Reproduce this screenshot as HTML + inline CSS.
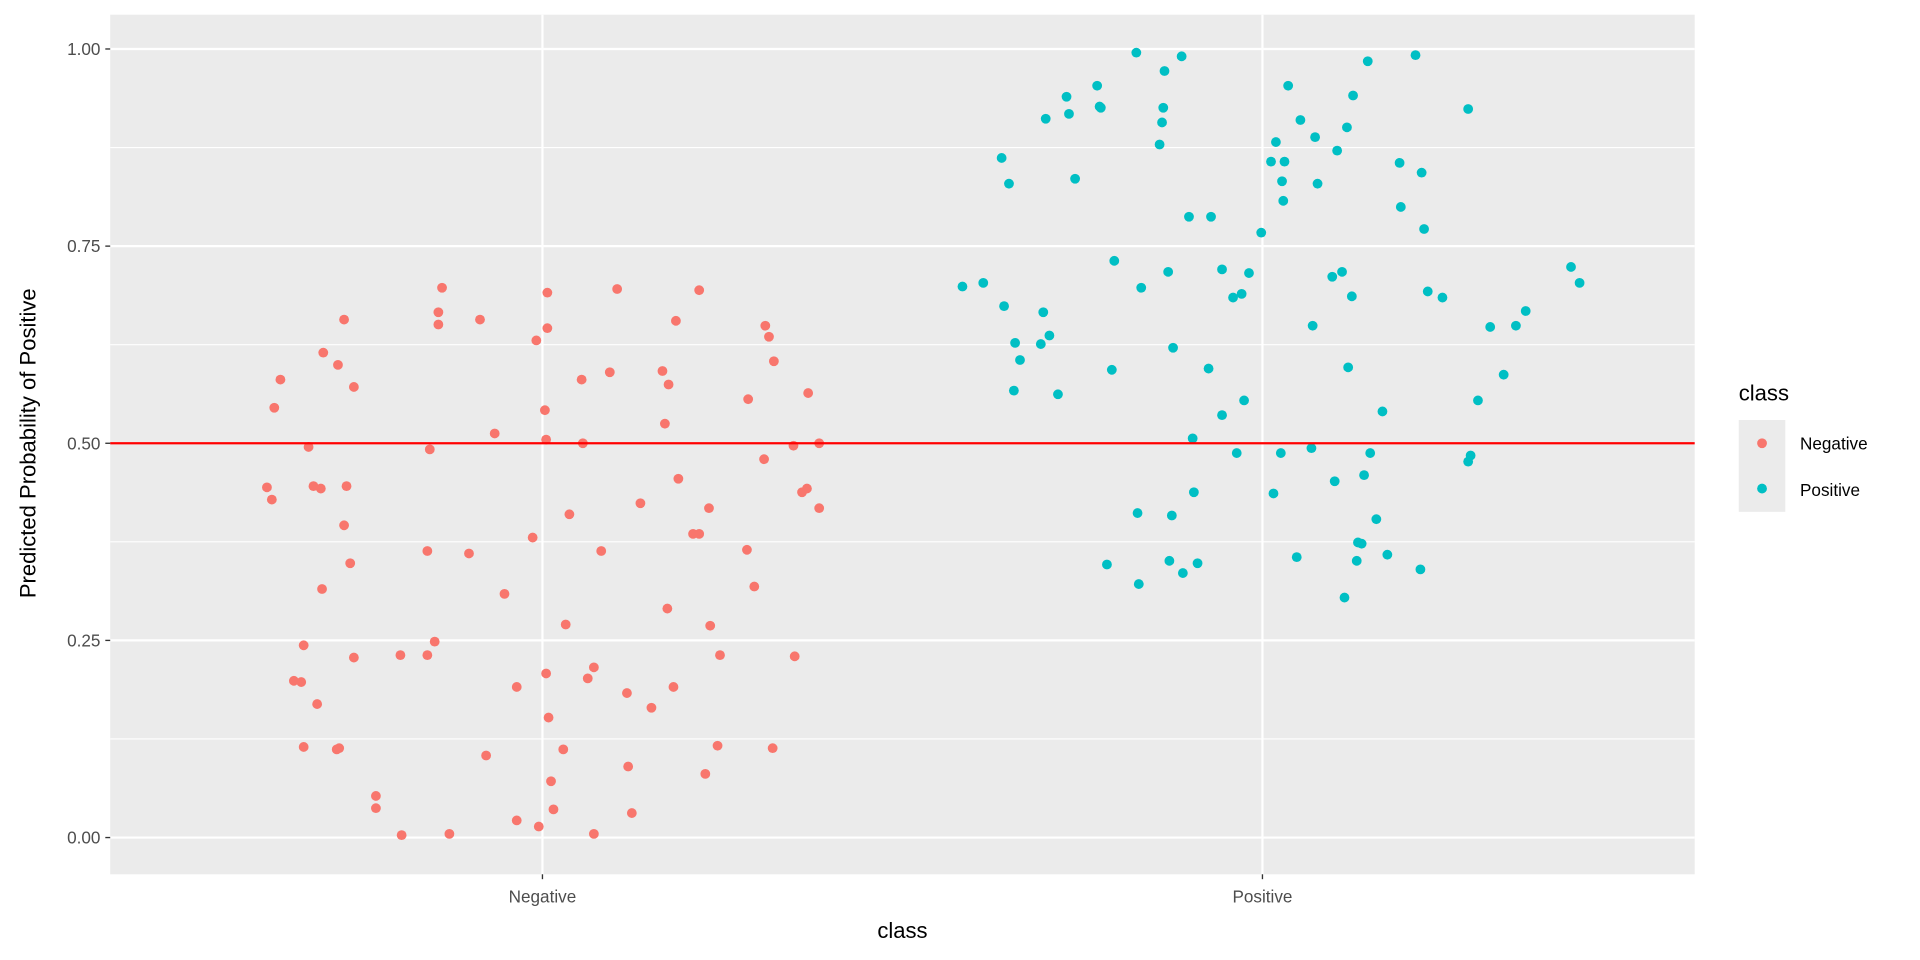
<!DOCTYPE html>
<html><head><meta charset="utf-8"><style>html,body{margin:0;padding:0;background:#fff}svg{display:block}</style></head>
<body>
<svg width="1920" height="960" viewBox="0 0 1568 784" xmlns="http://www.w3.org/2000/svg" font-family="Liberation Sans, sans-serif">
<rect x="0" y="0" width="1568" height="784" fill="#fff"/>
<rect x="90" y="12" width="1294" height="702" fill="#EBEBEB"/>
<g stroke="#fff" stroke-width="0.9">
<line x1="90" x2="1384" y1="120.5" y2="120.5"/><line x1="90" x2="1384" y1="281.5" y2="281.5"/>
<line x1="90" x2="1384" y1="442.5" y2="442.5"/><line x1="90" x2="1384" y1="603.5" y2="603.5"/>
</g>
<g stroke="#fff" stroke-width="1.8">
<line x1="90" x2="1384" y1="40" y2="40"/><line x1="90" x2="1384" y1="201" y2="201"/>
<line x1="90" x2="1384" y1="362" y2="362"/><line x1="90" x2="1384" y1="523" y2="523"/>
<line x1="90" x2="1384" y1="684" y2="684"/>
<line x1="443" x2="443" y1="12" y2="714"/><line x1="1031" x2="1031" y1="12" y2="714"/>
</g>
<g fill="#F8766D">
<circle cx="218" cy="398" r="4"/><circle cx="222" cy="408" r="4"/><circle cx="229" cy="310" r="4"/><circle cx="224" cy="333" r="4"/><circle cx="252" cy="365" r="4"/><circle cx="256" cy="397" r="4"/><circle cx="262" cy="399" r="4"/><circle cx="248" cy="527" r="4"/><circle cx="240" cy="556" r="4"/><circle cx="246" cy="557" r="4"/><circle cx="259" cy="575" r="4"/><circle cx="248" cy="610" r="4"/><circle cx="275" cy="612" r="4"/><circle cx="277" cy="611" r="4"/><circle cx="264" cy="288" r="4"/><circle cx="276" cy="298" r="4"/><circle cx="281" cy="261" r="4"/><circle cx="289" cy="316" r="4"/><circle cx="283" cy="397" r="4"/><circle cx="281" cy="429" r="4"/><circle cx="286" cy="460" r="4"/><circle cx="263" cy="481" r="4"/><circle cx="289" cy="537" r="4"/><circle cx="307" cy="650" r="4"/><circle cx="307" cy="660" r="4"/><circle cx="328" cy="682" r="4"/><circle cx="327" cy="535" r="4"/><circle cx="349" cy="535" r="4"/><circle cx="355" cy="524" r="4"/><circle cx="349" cy="450" r="4"/><circle cx="351" cy="367" r="4"/><circle cx="358" cy="255" r="4"/><circle cx="358" cy="265" r="4"/><circle cx="361" cy="235" r="4"/><circle cx="367" cy="681" r="4"/><circle cx="383" cy="452" r="4"/><circle cx="392" cy="261" r="4"/><circle cx="397" cy="617" r="4"/><circle cx="404" cy="354" r="4"/><circle cx="412" cy="485" r="4"/><circle cx="422" cy="561" r="4"/><circle cx="422" cy="670" r="4"/><circle cx="435" cy="439" r="4"/><circle cx="438" cy="278" r="4"/><circle cx="440" cy="675" r="4"/><circle cx="445" cy="335" r="4"/><circle cx="446" cy="359" r="4"/><circle cx="447" cy="268" r="4"/><circle cx="447" cy="239" r="4"/><circle cx="446" cy="550" r="4"/><circle cx="448" cy="586" r="4"/><circle cx="450" cy="638" r="4"/><circle cx="452" cy="661" r="4"/><circle cx="460" cy="612" r="4"/><circle cx="462" cy="510" r="4"/><circle cx="465" cy="420" r="4"/><circle cx="475" cy="310" r="4"/><circle cx="476" cy="362" r="4"/><circle cx="480" cy="554" r="4"/><circle cx="485" cy="545" r="4"/><circle cx="491" cy="450" r="4"/><circle cx="485" cy="681" r="4"/><circle cx="498" cy="304" r="4"/><circle cx="504" cy="236" r="4"/><circle cx="512" cy="566" r="4"/><circle cx="513" cy="626" r="4"/><circle cx="516" cy="664" r="4"/><circle cx="523" cy="411" r="4"/><circle cx="532" cy="578" r="4"/><circle cx="541" cy="303" r="4"/><circle cx="543" cy="346" r="4"/><circle cx="546" cy="314" r="4"/><circle cx="545" cy="497" r="4"/><circle cx="550" cy="561" r="4"/><circle cx="552" cy="262" r="4"/><circle cx="554" cy="391" r="4"/><circle cx="566" cy="436" r="4"/><circle cx="571" cy="436" r="4"/><circle cx="571" cy="237" r="4"/><circle cx="576" cy="632" r="4"/><circle cx="579" cy="415" r="4"/><circle cx="580" cy="511" r="4"/><circle cx="588" cy="535" r="4"/><circle cx="586" cy="609" r="4"/><circle cx="611" cy="326" r="4"/><circle cx="610" cy="449" r="4"/><circle cx="616" cy="479" r="4"/><circle cx="624" cy="375" r="4"/><circle cx="625" cy="266" r="4"/><circle cx="628" cy="275" r="4"/><circle cx="632" cy="295" r="4"/><circle cx="631" cy="611" r="4"/><circle cx="649" cy="536" r="4"/><circle cx="648" cy="364" r="4"/><circle cx="655" cy="402" r="4"/><circle cx="659" cy="399" r="4"/><circle cx="660" cy="321" r="4"/><circle cx="669" cy="415" r="4"/><circle cx="669" cy="362" r="4"/>
</g>
<g fill="#00BFC4">
<circle cx="786" cy="234" r="4"/><circle cx="803" cy="231" r="4"/><circle cx="818" cy="129" r="4"/><circle cx="824" cy="150" r="4"/><circle cx="820" cy="250" r="4"/><circle cx="829" cy="280" r="4"/><circle cx="833" cy="294" r="4"/><circle cx="828" cy="319" r="4"/><circle cx="850" cy="281" r="4"/><circle cx="852" cy="255" r="4"/><circle cx="857" cy="274" r="4"/><circle cx="864" cy="322" r="4"/><circle cx="854" cy="97" r="4"/><circle cx="871" cy="79" r="4"/><circle cx="873" cy="93" r="4"/><circle cx="878" cy="146" r="4"/><circle cx="896" cy="70" r="4"/><circle cx="898" cy="87" r="4"/><circle cx="899" cy="88" r="4"/><circle cx="904" cy="461" r="4"/><circle cx="908" cy="302" r="4"/><circle cx="910" cy="213" r="4"/><circle cx="928" cy="43" r="4"/><circle cx="932" cy="235" r="4"/><circle cx="929" cy="419" r="4"/><circle cx="930" cy="477" r="4"/><circle cx="947" cy="118" r="4"/><circle cx="949" cy="100" r="4"/><circle cx="950" cy="88" r="4"/><circle cx="951" cy="58" r="4"/><circle cx="955" cy="458" r="4"/><circle cx="957" cy="421" r="4"/><circle cx="954" cy="222" r="4"/><circle cx="958" cy="284" r="4"/><circle cx="965" cy="46" r="4"/><circle cx="966" cy="468" r="4"/><circle cx="971" cy="177" r="4"/><circle cx="974" cy="358" r="4"/><circle cx="975" cy="402" r="4"/><circle cx="978" cy="460" r="4"/><circle cx="987" cy="301" r="4"/><circle cx="989" cy="177" r="4"/><circle cx="998" cy="339" r="4"/><circle cx="998" cy="220" r="4"/><circle cx="1007" cy="243" r="4"/><circle cx="1010" cy="370" r="4"/><circle cx="1014" cy="240" r="4"/><circle cx="1016" cy="327" r="4"/><circle cx="1020" cy="223" r="4"/><circle cx="1030" cy="190" r="4"/><circle cx="1040" cy="403" r="4"/><circle cx="1038" cy="132" r="4"/><circle cx="1042" cy="116" r="4"/><circle cx="1046" cy="370" r="4"/><circle cx="1047" cy="148" r="4"/><circle cx="1048" cy="164" r="4"/><circle cx="1049" cy="132" r="4"/><circle cx="1052" cy="70" r="4"/><circle cx="1059" cy="455" r="4"/><circle cx="1062" cy="98" r="4"/><circle cx="1071" cy="366" r="4"/><circle cx="1072" cy="266" r="4"/><circle cx="1074" cy="112" r="4"/><circle cx="1076" cy="150" r="4"/><circle cx="1088" cy="226" r="4"/><circle cx="1090" cy="393" r="4"/><circle cx="1092" cy="123" r="4"/><circle cx="1096" cy="222" r="4"/><circle cx="1098" cy="488" r="4"/><circle cx="1100" cy="104" r="4"/><circle cx="1101" cy="300" r="4"/><circle cx="1105" cy="78" r="4"/><circle cx="1104" cy="242" r="4"/><circle cx="1108" cy="458" r="4"/><circle cx="1109" cy="443" r="4"/><circle cx="1112" cy="444" r="4"/><circle cx="1114" cy="388" r="4"/><circle cx="1117" cy="50" r="4"/><circle cx="1119" cy="370" r="4"/><circle cx="1124" cy="424" r="4"/><circle cx="1129" cy="336" r="4"/><circle cx="1133" cy="453" r="4"/><circle cx="1143" cy="133" r="4"/><circle cx="1144" cy="169" r="4"/><circle cx="1156" cy="45" r="4"/><circle cx="1160" cy="465" r="4"/><circle cx="1161" cy="141" r="4"/><circle cx="1163" cy="187" r="4"/><circle cx="1166" cy="238" r="4"/><circle cx="1178" cy="243" r="4"/><circle cx="1199" cy="89" r="4"/><circle cx="1199" cy="377" r="4"/><circle cx="1201" cy="372" r="4"/><circle cx="1207" cy="327" r="4"/><circle cx="1217" cy="267" r="4"/><circle cx="1228" cy="306" r="4"/><circle cx="1238" cy="266" r="4"/><circle cx="1246" cy="254" r="4"/><circle cx="1283" cy="218" r="4"/><circle cx="1290" cy="231" r="4"/>
</g>
<line x1="90" x2="1384" y1="362" y2="362" stroke="#FF0000" stroke-width="1.8"/>
<g stroke="#333" stroke-width="1.1">
<line x1="86" x2="90" y1="40" y2="40"/><line x1="86" x2="90" y1="201" y2="201"/><line x1="86" x2="90" y1="362" y2="362"/><line x1="86" x2="90" y1="523" y2="523"/><line x1="86" x2="90" y1="684" y2="684"/>
<line x1="443" x2="443" y1="714" y2="718"/><line x1="1031" x2="1031" y1="714" y2="718"/>
</g>
<g fill="#4D4D4D" font-size="14" text-anchor="end">
<text x="82" y="45">1.00</text><text x="82" y="206">0.75</text><text x="82" y="367">0.50</text><text x="82" y="528">0.25</text><text x="82" y="689">0.00</text>
</g>
<g fill="#4D4D4D" font-size="14" text-anchor="middle">
<text x="443" y="737">Negative</text><text x="1031" y="737">Positive</text>
</g>
<text x="737" y="766" font-size="18" text-anchor="middle" fill="#000">class</text>
<text transform="translate(29,362) rotate(-90)" font-size="18" text-anchor="middle" fill="#000">Predicted Probability of Positive</text>
<text x="1420" y="327" font-size="18" fill="#000">class</text>
<rect x="1420" y="343" width="38" height="75" fill="#EBEBEB"/>
<circle cx="1439" cy="362" r="4" fill="#F8766D"/>
<circle cx="1439" cy="399" r="4" fill="#00BFC4"/>
<text x="1470" y="367" font-size="14" fill="#000">Negative</text>
<text x="1470" y="405" font-size="14" fill="#000">Positive</text>
</svg>
</body></html>
